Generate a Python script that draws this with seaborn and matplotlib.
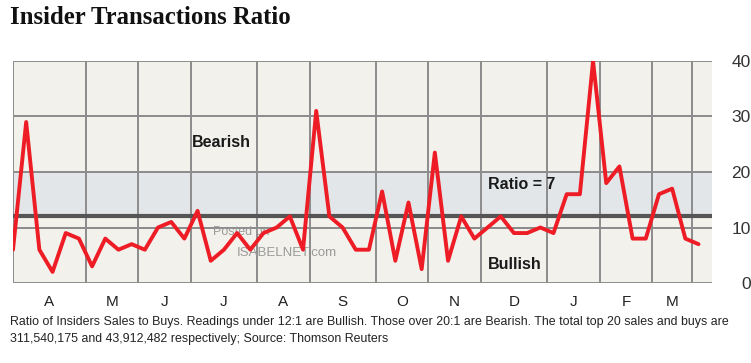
import matplotlib
matplotlib.use("Agg")
import matplotlib.pyplot as plt
import seaborn as sns
import pandas as pd

# weekly insider sales/buys ratio
ratio = [6, 29, 6, 2, 9, 8, 3, 8, 6, 7,
         6, 10, 11, 8, 13, 4, 6, 9, 6, 9,
         10, 12, 6, 31, 12, 10, 6, 6, 16.5, 4,
         14.5, 2.5, 23.5, 4, 12, 8, 10, 12, 9, 9,
         10, 9, 16, 16, 40, 18, 21, 8, 8, 16,
         17, 8, 7]
months = ["A", "M", "J", "J", "A", "S", "O", "N", "D", "J", "F", "M"]
month_edges = [0, 5.5, 9.5, 13.5, 18.5, 22.5, 27.5, 31.5, 35.5, 40.5, 44.5, 48.5, 51.5]
y_ticks = [0, 10, 20, 30, 40]
bullish_level = 12
bearish_level = 20
ref_level = 10

df = pd.DataFrame({"week": range(len(ratio)), "ratio": ratio})

sns.set_style("white")
plt.rcParams['font.family'] = ['Liberation Sans', 'DejaVu Sans']

fig = plt.figure(figsize=(7.51, 3.63), dpi=100)
ax = fig.add_axes([13 / 751, 80 / 363, 698.7 / 751, 222 / 363])
ax.set_facecolor("#f2f1ec")

# bearish/bullish band
ax.axhspan(bullish_level, bearish_level, color="#e3e6e9", zorder=0)

grid_kw = dict(color="#8c8c8c", lw=1.4, zorder=1)
for y in y_ticks:
    ax.axhline(y, **grid_kw)
ax.axhline(ref_level, **grid_kw)
for x in month_edges:
    ax.axvline(x, **grid_kw)
ax.axhline(bullish_level, color="#555555", lw=3, zorder=1)

sns.lineplot(data=df, x="week", y="ratio", ax=ax, color="#ee1c25", lw=2.8, zorder=3)

ax.set_xlim(0, len(ratio))
ax.set_ylim(0, 40)
for s in ax.spines.values():
    s.set_visible(False)

# month labels centred between edges
centers = [(a + b) / 2 for a, b in zip(month_edges, month_edges[1:])]
ax.set_xticks(centers)
ax.set_xticklabels(months, fontsize=11, color="#222222")
ax.tick_params(axis="x", length=0, pad=9)

ax.yaxis.tick_right()
ax.set_yticks(y_ticks)
ax.set_yticklabels([str(v) for v in y_ticks], fontsize=12.5, color="#333333", ha="right")
ax.tick_params(axis="y", length=0, pad=28)
ax.set_xlabel("")
ax.set_ylabel("")

lab_kw = dict(fontsize=11.5, fontweight="bold", color="#1a1a1a", va="center", zorder=4)
ax.text(13.6, 25.3, "Bearish", **lab_kw)
ax.text(36.0, 17.7, "Ratio = 7", **lab_kw)
ax.text(36.0, 3.4, "Bullish", **lab_kw)

ax.text(15.2, 8.6, "Posted on", fontsize=9, color="#9a9a9a", zorder=2)
ax.text(17.0, 4.8, "ISABELNET.com", fontsize=9.5, color="#9a9a9a", zorder=2)

fig.text(10 / 751, 1 - 18 / 363, "Insider Transactions Ratio", fontsize=17.8,
         family=["Liberation Serif", "DejaVu Serif"], fontweight="bold",
         color="#111111", va="center", ha="left")

fig.text(10 / 751, 1 - 322 / 363,
         "Ratio of Insiders Sales to Buys. Readings under 12:1 are Bullish. Those over 20:1 are Bearish. "
         "The total top 20 sales and buys are",
         fontsize=8.9, color="#222222", va="center", ha="left")
fig.text(10 / 751, 1 - 339 / 363,
         "311,540,175 and 43,912,482 respectively; Source: Thomson Reuters",
         fontsize=8.9, color="#222222", va="center", ha="left")

fig.savefig("out.png", dpi=100, facecolor="white")
